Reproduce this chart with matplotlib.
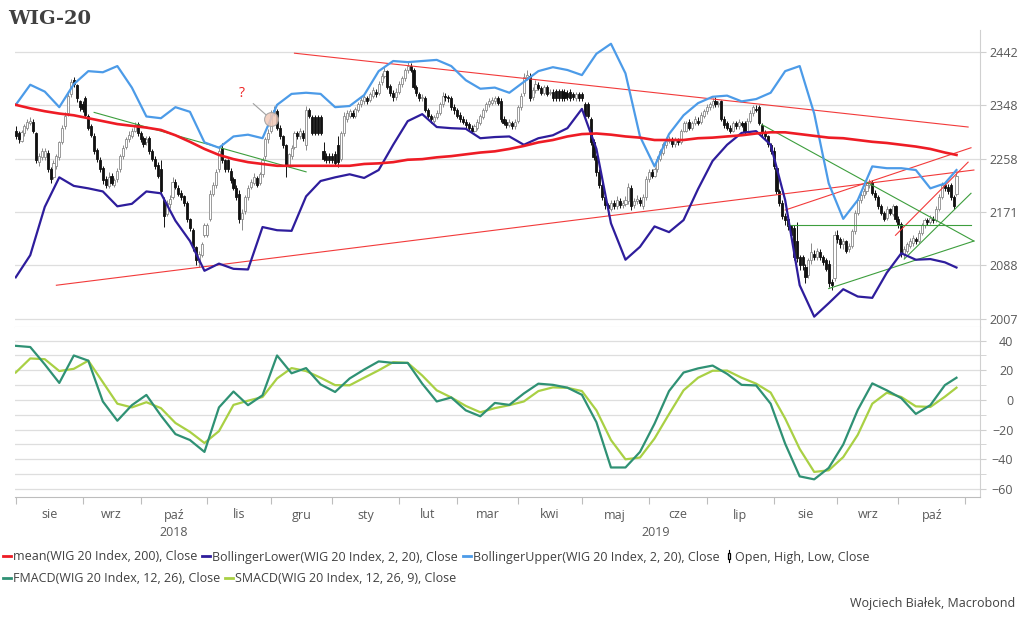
import matplotlib
matplotlib.use("Agg")
import matplotlib.pyplot as plt
import matplotlib.ticker as mticker
from matplotlib.lines import Line2D
from matplotlib.patches import Rectangle
from matplotlib.legend_handler import HandlerBase
import numpy as np
import pandas as pd

plt.rcParams['font.family'] = ['Open Sans', 'DejaVu Sans']

# WIG-20, sesje dzienne od 2018-08-01 (dni robocze; w święta powtórzona poprzednia świeca)
opens = [
    2305, 2300, 2288, 2300, 2310, 2318, 2320, 2300, 2252, 2260, 2260, 2268, 2240, 2228, 2245, 2260, 2285, 2312, 2335, 2368, 2392, 2383, 2355,
    2350, 2360, 2330, 2312, 2296, 2272, 2255, 2242, 2225, 2213, 2230, 2215, 2224, 2240, 2262, 2277, 2290, 2296, 2305, 2316,
    2300, 2292, 2285, 2292, 2270, 2258, 2248, 2240, 2190, 2168, 2183, 2195, 2220, 2210, 2202, 2196, 2185, 2160, 2142, 2115, 2092, 2103, 2135,
    2135, 2160, 2200, 2215, 2240, 2275, 2255, 2255, 2238, 2225, 2210, 2200, 2160, 2172, 2195, 2212, 2218, 2226, 2218, 2232, 2262, 2290,
    2305, 2335, 2338, 2310, 2295, 2280, 2248, 2262, 2278, 2300, 2296, 2300, 2280, 2340, 2328, 2328, 2328, 2328, 2270, 2262, 2262,
    2262, 2265, 2280, 2258, 2300, 2325, 2330, 2335, 2330, 2340, 2350, 2355, 2360, 2358, 2365, 2372, 2370, 2388, 2400, 2408, 2382, 2370, 2362,
    2372, 2385, 2395, 2410, 2418, 2410, 2380, 2368, 2360, 2360, 2340, 2330, 2322, 2328, 2335, 2350, 2365, 2362, 2360, 2345,
    2340, 2332, 2325, 2320, 2316, 2310, 2305, 2310, 2318, 2328, 2340, 2350, 2352, 2355, 2360, 2355, 2325, 2320, 2315, 2318, 2312,
    2322, 2345, 2370, 2398, 2400, 2362, 2375, 2383, 2378, 2370, 2380, 2370, 2372, 2373, 2373, 2373, 2372, 2370, 2372, 2368, 2360, 2368,
    2368, 2350, 2350, 2325, 2285, 2260, 2235, 2215, 2195, 2182, 2175, 2185, 2180, 2188, 2182, 2183, 2188, 2210, 2182, 2188, 2190, 2180, 2195,
    2225, 2235, 2230, 2240, 2258, 2268, 2280, 2288, 2290, 2282, 2290, 2285, 2305, 2305, 2320, 2310, 2318, 2322, 2320, 2330,
    2338, 2345, 2348, 2355, 2350, 2355, 2325, 2318, 2310, 2305, 2318, 2312, 2318, 2318, 2305, 2322, 2335, 2342, 2345, 2315, 2302, 2295, 2280,
    2270, 2242, 2205, 2185, 2165, 2160, 2148, 2145, 2125, 2100, 2100, 2085, 2072, 2095, 2105, 2100, 2108, 2100, 2095, 2090, 2062, 2068,
    2135, 2128, 2120, 2125, 2112, 2118, 2140, 2170, 2190, 2198, 2205, 2215, 2220, 2202, 2195, 2180, 2170, 2162, 2175, 2168, 2180,
    2160, 2152, 2105, 2110, 2118, 2122, 2128, 2125, 2138, 2150, 2158, 2155, 2160, 2158, 2175, 2195, 2215, 2212, 2215, 2195, 2200,
]
highs = [
    2312, 2305, 2306, 2316, 2324, 2328, 2324, 2302, 2268, 2276, 2276, 2272, 2244, 2256, 2266, 2288, 2314, 2336, 2370, 2394, 2398, 2386, 2358,
    2355, 2364, 2334, 2316, 2300, 2276, 2260, 2246, 2230, 2236, 2234, 2226, 2242, 2265, 2280, 2294, 2304, 2310, 2320, 2320,
    2305, 2296, 2296, 2296, 2274, 2262, 2252, 2256, 2195, 2190, 2198, 2228, 2224, 2214, 2206, 2198, 2188, 2162, 2145, 2118, 2110, 2124, 2153,
    2153, 2206, 2220, 2240, 2278, 2284, 2258, 2258, 2242, 2228, 2214, 2206, 2176, 2198, 2215, 2225, 2234, 2230, 2236, 2260, 2294, 2308,
    2340, 2347, 2342, 2314, 2298, 2282, 2268, 2280, 2304, 2304, 2310, 2306, 2347, 2344, 2331, 2331, 2331, 2331, 2285, 2268, 2268,
    2268, 2270, 2295, 2304, 2337, 2340, 2342, 2340, 2346, 2354, 2362, 2366, 2364, 2372, 2380, 2376, 2390, 2404, 2415, 2410, 2386, 2375, 2378,
    2390, 2400, 2414, 2424, 2422, 2414, 2384, 2372, 2368, 2364, 2344, 2334, 2332, 2340, 2354, 2372, 2370, 2366, 2364, 2350,
    2344, 2336, 2330, 2324, 2320, 2314, 2316, 2324, 2334, 2344, 2354, 2360, 2362, 2364, 2364, 2360, 2330, 2325, 2325, 2322, 2324,
    2348, 2370, 2404, 2410, 2404, 2380, 2392, 2388, 2382, 2384, 2384, 2376, 2376, 2377, 2377, 2377, 2376, 2374, 2376, 2372, 2372, 2372,
    2372, 2354, 2354, 2328, 2290, 2264, 2240, 2220, 2200, 2186, 2190, 2190, 2196, 2194, 2190, 2196, 2218, 2214, 2194, 2198, 2195, 2200, 2230,
    2240, 2240, 2244, 2262, 2274, 2286, 2294, 2295, 2294, 2294, 2293, 2308, 2322, 2322, 2324, 2322, 2330, 2328, 2336, 2342,
    2350, 2354, 2360, 2362, 2356, 2358, 2330, 2322, 2314, 2322, 2322, 2324, 2322, 2322, 2326, 2340, 2349, 2348, 2348, 2318, 2306, 2298, 2284,
    2277, 2245, 2208, 2190, 2170, 2166, 2150, 2150, 2155, 2104, 2104, 2090, 2098, 2122, 2111, 2114, 2112, 2103, 2098, 2096, 2066, 2140,
    2142, 2132, 2130, 2127, 2122, 2144, 2174, 2195, 2202, 2210, 2218, 2224, 2223, 2206, 2198, 2184, 2173, 2180, 2178, 2184, 2182,
    2165, 2155, 2118, 2124, 2130, 2134, 2132, 2142, 2154, 2162, 2162, 2166, 2164, 2180, 2200, 2220, 2220, 2216, 2218, 2198, 2234,
]
lows = [
    2290, 2284, 2285, 2296, 2306, 2314, 2300, 2250, 2246, 2256, 2256, 2236, 2218, 2224, 2240, 2256, 2282, 2308, 2330, 2362, 2380, 2354, 2338,
    2336, 2328, 2306, 2294, 2266, 2252, 2236, 2216, 2210, 2210, 2214, 2211, 2220, 2236, 2258, 2274, 2286, 2292, 2302, 2296,
    2286, 2278, 2280, 2266, 2254, 2240, 2226, 2201, 2147, 2164, 2178, 2192, 2208, 2196, 2190, 2180, 2155, 2140, 2110, 2088, 2085, 2100, 2132,
    2132, 2156, 2196, 2210, 2236, 2250, 2236, 2236, 2218, 2206, 2190, 2153, 2142, 2168, 2190, 2208, 2214, 2211, 2214, 2228, 2258, 2284,
    2300, 2330, 2306, 2290, 2276, 2228, 2244, 2258, 2274, 2290, 2290, 2288, 2272, 2326, 2297, 2297, 2297, 2297, 2254, 2250, 2250,
    2250, 2246, 2244, 2254, 2296, 2320, 2326, 2326, 2326, 2336, 2346, 2350, 2350, 2354, 2360, 2362, 2366, 2384, 2396, 2376, 2364, 2356, 2358,
    2368, 2380, 2390, 2405, 2406, 2376, 2365, 2356, 2355, 2336, 2326, 2318, 2318, 2324, 2332, 2346, 2356, 2354, 2340, 2334,
    2326, 2320, 2316, 2310, 2306, 2300, 2302, 2306, 2314, 2324, 2336, 2346, 2348, 2350, 2348, 2320, 2314, 2310, 2311, 2308, 2308,
    2318, 2340, 2365, 2392, 2355, 2358, 2370, 2374, 2366, 2366, 2364, 2366, 2356, 2356, 2356, 2356, 2356, 2358, 2356, 2358, 2356, 2355,
    2355, 2326, 2326, 2280, 2256, 2230, 2210, 2190, 2176, 2166, 2172, 2176, 2176, 2178, 2178, 2180, 2184, 2174, 2178, 2184, 2180, 2176, 2190,
    2220, 2226, 2227, 2236, 2254, 2264, 2276, 2284, 2278, 2278, 2281, 2282, 2302, 2302, 2306, 2306, 2314, 2314, 2316, 2326,
    2334, 2340, 2344, 2346, 2346, 2322, 2310, 2306, 2300, 2302, 2308, 2308, 2311, 2298, 2302, 2318, 2330, 2336, 2314, 2296, 2289, 2278, 2266,
    2240, 2200, 2180, 2160, 2150, 2142, 2130, 2096, 2092, 2080, 2080, 2060, 2068, 2090, 2096, 2096, 2096, 2088, 2078, 2055, 2050, 2064,
    2122, 2114, 2112, 2106, 2108, 2114, 2136, 2166, 2186, 2194, 2200, 2210, 2198, 2190, 2176, 2166, 2156, 2158, 2166, 2164, 2155,
    2146, 2100, 2098, 2106, 2114, 2118, 2120, 2122, 2134, 2146, 2150, 2152, 2154, 2155, 2172, 2192, 2205, 2200, 2190, 2175, 2196,
]
closes = [
    2295, 2290, 2302, 2312, 2320, 2322, 2305, 2255, 2262, 2270, 2270, 2240, 2225, 2250, 2262, 2285, 2310, 2330, 2365, 2388, 2385, 2360, 2345,
    2342, 2332, 2310, 2298, 2270, 2258, 2240, 2222, 2215, 2228, 2218, 2222, 2238, 2262, 2275, 2290, 2298, 2305, 2315, 2300,
    2290, 2282, 2290, 2270, 2258, 2245, 2230, 2205, 2165, 2185, 2192, 2220, 2212, 2200, 2195, 2185, 2160, 2145, 2115, 2095, 2105, 2120, 2150,
    2150, 2200, 2215, 2235, 2270, 2255, 2240, 2240, 2222, 2210, 2195, 2160, 2170, 2195, 2210, 2220, 2228, 2215, 2232, 2255, 2290, 2300,
    2335, 2340, 2310, 2295, 2280, 2245, 2265, 2275, 2300, 2295, 2305, 2292, 2340, 2330, 2300, 2300, 2300, 2300, 2258, 2255, 2255,
    2255, 2250, 2252, 2300, 2330, 2335, 2338, 2330, 2342, 2350, 2358, 2362, 2355, 2368, 2375, 2368, 2385, 2400, 2408, 2380, 2370, 2362, 2372,
    2385, 2395, 2410, 2418, 2410, 2380, 2370, 2360, 2362, 2340, 2330, 2325, 2328, 2335, 2350, 2365, 2362, 2360, 2345, 2340,
    2330, 2325, 2320, 2315, 2310, 2305, 2312, 2320, 2330, 2340, 2350, 2355, 2358, 2360, 2352, 2325, 2318, 2315, 2320, 2312, 2320,
    2345, 2365, 2398, 2402, 2360, 2375, 2385, 2378, 2370, 2380, 2368, 2372, 2360, 2360, 2360, 2360, 2360, 2362, 2360, 2362, 2368, 2360,
    2360, 2330, 2330, 2285, 2260, 2235, 2215, 2195, 2182, 2178, 2185, 2180, 2190, 2182, 2185, 2190, 2212, 2180, 2188, 2192, 2185, 2195, 2225,
    2235, 2230, 2240, 2258, 2270, 2282, 2288, 2290, 2282, 2290, 2285, 2305, 2318, 2318, 2310, 2318, 2325, 2318, 2332, 2338,
    2345, 2350, 2355, 2350, 2352, 2325, 2315, 2310, 2305, 2318, 2312, 2320, 2315, 2302, 2322, 2335, 2345, 2340, 2318, 2300, 2295, 2282, 2270,
    2245, 2205, 2185, 2165, 2158, 2148, 2135, 2100, 2098, 2088, 2088, 2070, 2095, 2108, 2100, 2110, 2100, 2092, 2082, 2060, 2058, 2135,
    2128, 2120, 2125, 2110, 2118, 2140, 2170, 2190, 2198, 2205, 2215, 2220, 2202, 2195, 2180, 2170, 2160, 2175, 2170, 2180, 2160,
    2150, 2105, 2112, 2120, 2125, 2130, 2125, 2138, 2150, 2158, 2155, 2162, 2158, 2175, 2195, 2215, 2210, 2205, 2195, 2180, 2230,
]

# wskazniki, odczytane co 5 sesji (plus ostatnia sesja)
mean200 = [
    2349, 2343, 2338, 2334, 2331, 2326, 2321, 2316, 2313, 2310,
    2306, 2297, 2286, 2274, 2264, 2257, 2252, 2249, 2246, 2246,
    2246, 2246, 2246, 2246, 2249, 2250, 2252, 2256, 2257, 2260,
    2262, 2265, 2268, 2270, 2274, 2279, 2285, 2289, 2295, 2299,
    2300, 2298, 2295, 2293, 2289, 2289, 2289, 2292, 2293, 2295,
    2297, 2300, 2302, 2302, 2299, 2296, 2293, 2292, 2289, 2286,
    2284, 2281, 2278, 2274, 2268, 2264,
]
bb_upper = [
    2349, 2384, 2372, 2345, 2385, 2408, 2406, 2417, 2379, 2329,
    2326, 2345, 2337, 2285, 2276, 2295, 2298, 2292, 2349, 2368,
    2370, 2368, 2345, 2347, 2366, 2408, 2426, 2424, 2426, 2428,
    2417, 2392, 2377, 2379, 2370, 2389, 2408, 2415, 2410, 2401,
    2439, 2457, 2404, 2295, 2245, 2299, 2331, 2352, 2363, 2365,
    2355, 2359, 2370, 2408, 2417, 2334, 2217, 2160, 2190, 2245,
    2242, 2242, 2239, 2209, 2217, 2239,
]
bb_lower = [
    2069, 2103, 2179, 2227, 2213, 2209, 2204, 2180, 2184, 2204,
    2201, 2157, 2125, 2079, 2090, 2082, 2081, 2147, 2142, 2141,
    2196, 2221, 2227, 2232, 2226, 2239, 2281, 2321, 2333, 2311,
    2309, 2308, 2292, 2294, 2295, 2281, 2292, 2297, 2309, 2342,
    2274, 2153, 2096, 2116, 2148, 2139, 2158, 2208, 2254, 2281,
    2301, 2304, 2281, 2190, 2057, 2010, 2030, 2051, 2040, 2038,
    2076, 2106, 2096, 2097, 2092, 2084,
]
fmacd = [
    36.5, 35.7, 24, 11.5, 30, 26.5, -1, -14, -3.5, 3.4,
    -10.5, -23, -27, -35, -5, 5.7, -3.5, 3.2, 30, 18,
    21.5, 10.5, 5.4, 14.5, 20.5, 26, 25, 25, 11, -1,
    1.7, -7, -11, -2, -3.3, 4.4, 11, 10.2, 8.3, 3.5,
    -15, -45.5, -45.5, -35, -16, 6, 18.5, 21.3, 23.2, 17.6,
    10.2, 9.8, -2.5, -29.5, -51.5, -53.5, -45.8, -30, -6.7, 11.2,
    6.5, 1.2, -9.4, -3.5, 10, 15,
]
smacd = [
    18.5, 28, 27.5, 19.5, 21, 26.5, 12, -2.5, -5, -1.5,
    -5.5, -15.5, -21.5, -29, -21, -3.3, -0.5, 2, 14.5, 21.5,
    19.5, 15, 10, 9.9, 15, 20, 25.5, 25, 16.5, 6.5,
    1.7, -4, -8.3, -5.5, -3.5, -1, 6, 8.5, 8.2, 6,
    -7, -27, -40, -38.8, -26, -9.5, 6.5, 15, 19.7, 19.8,
    15, 11, 5, -12.5, -33, -48.5, -47.4, -38.5, -23.5, -2.5,
    4.9, 2, -4.3, -4.7, 2.2, 8.3,
]

# linie trendu: data od, wartosc od, data do, wartosc do
red_lines = [
    ("2018-08-21", 2057, "2019-11-06", 2239),
    ("2018-12-13", 2440, "2019-11-04", 2311),
    ("2019-08-07", 2174, "2019-11-05", 2276),
    ("2019-09-30", 2134, "2019-11-04", 2252),
]
green_lines = [
    ("2018-09-07", 2336, "2018-12-19", 2236),
    ("2019-07-26", 2315, "2019-11-06", 2125),
    ("2019-08-08", 2151, "2019-11-05", 2151),
    ("2019-08-28", 2052, "2019-11-06", 2125),
    ("2019-10-03", 2097, "2019-11-05", 2201),
]

month_names = ["sie", "wrz", "paź", "lis", "gru", "sty", "lut", "mar",
               "kwi", "maj", "cze", "lip", "sie", "wrz", "paź"]
price_ticks = [2007, 2088, 2171, 2258, 2348, 2442]
macd_ticks = [-60, -40, -20, 0, 20, 40]

c_mean = "#ee1c25"
c_low = "#2e1d9c"
c_up = "#4c9be8"
c_fm = "#2f9174"
c_sm = "#a9d044"
c_red = "#f23a3a"
c_green = "#3d9e3d"
grid_c = "#dedede"
txt_c = "#595959"

days = pd.bdate_range("2018-08-01", "2019-11-29")
def pos(d):
    return days.get_loc(pd.Timestamp(d))

x = np.arange(len(closes))
ind_x = list(range(0, len(closes), 5)) + [len(closes) - 1]
xmax = 332.1

fig = plt.figure(figsize=(10.24, 6.21), dpi=100)
ax1 = fig.add_axes([15 / 1024, 1 - 326.7 / 621, 965 / 1024, 296.7 / 621])
ax2 = fig.add_axes([15 / 1024, 1 - 497 / 621, 965 / 1024, 170.3 / 621])

# --- panel cenowy ---
o = np.array(opens); h = np.array(highs); l = np.array(lows); c = np.array(closes)
up = c >= o
ax1.vlines(x[up], l[up], h[up], color="#8a8a8a", lw=0.7, zorder=2)
ax1.vlines(x[~up], l[~up], h[~up], color="#111111", lw=0.7, zorder=2)
body_lo = np.minimum(o, c)
body_h = np.maximum(np.abs(c - o), 0.6)
ax1.bar(x[up], body_h[up], bottom=body_lo[up], width=0.72, facecolor="white",
        edgecolor="#8a8a8a", linewidth=0.6, zorder=2.5)
ax1.bar(x[~up], body_h[~up], bottom=body_lo[~up], width=0.72, facecolor="#111111",
        edgecolor="#111111", linewidth=0.6, zorder=2.5)

for d0, v0, d1, v1 in red_lines:
    ax1.plot([pos(d0), pos(d1)], [v0, v1], color=c_red, lw=0.8, zorder=3)
for d0, v0, d1, v1 in green_lines:
    ax1.plot([pos(d0), pos(d1)], [v0, v1], color=c_green, lw=0.8, zorder=3)

ax1.plot(ind_x, bb_upper, color=c_up, lw=1.6, zorder=4)
ax1.plot(ind_x, bb_lower, color=c_low, lw=1.6, zorder=4)
ax1.plot(ind_x, mean200, color=c_mean, lw=1.9, zorder=4)

# znak zapytania z kolkiem
qx, qv = pos("2018-12-03"), 2324
ax1.plot([qx], [qv], marker="o", ms=10, mfc="#f2c9b8", mec="#a0a0a0", mew=0.8,
         alpha=0.85, zorder=5)
ax1.annotate("?", xy=(qx, qv), xytext=(pos("2018-11-19"), 2368), color="#ee2222",
             fontsize=10, ha="center", va="center",
             arrowprops=dict(arrowstyle="-", color="#a0a0a0", lw=0.8, shrinkA=5, shrinkB=5))

ax1.set_yscale("log")
ax1.set_ylim(1995.2, 2482)
ax1.set_xlim(-0.25, xmax)
ax1.yaxis.tick_right()
ax1.yaxis.set_major_locator(mticker.FixedLocator(price_ticks))
ax1.yaxis.set_major_formatter(mticker.FixedFormatter([str(t) for t in price_ticks]))
ax1.yaxis.set_minor_locator(mticker.NullLocator())
ax1.tick_params(axis="y", length=4, color="#cfcfcf", labelsize=9, labelcolor=txt_c, pad=3)
ax1.set_xticks([])
ax1.grid(axis="y", color=grid_c, lw=0.9)
ax1.set_axisbelow(True)
for s in ["left", "top"]:
    ax1.spines[s].set_visible(False)
ax1.spines["right"].set_color("#d0d0d0")
ax1.spines["bottom"].set_color("#dadada")

# --- panel MACD ---
ax2.plot(ind_x, smacd, color=c_sm, lw=1.6, zorder=3)
ax2.plot(ind_x, fmacd, color=c_fm, lw=1.6, zorder=4)
ax2.set_xlim(-0.25, xmax)
ax2.set_ylim(-65.4, 49.4)
ax2.yaxis.tick_right()
ax2.yaxis.set_major_locator(mticker.FixedLocator(macd_ticks))
ax2.yaxis.set_minor_locator(mticker.MultipleLocator(10))
ax2.tick_params(axis="y", which="both", length=4, color="#cfcfcf", labelsize=9,
                labelcolor=txt_c, pad=20)
for lab in ax2.get_yticklabels():
    lab.set_horizontalalignment("right")
ax2.grid(axis="y", which="both", color=grid_c, lw=0.9)
ax2.set_axisbelow(True)
for s in ["left", "top"]:
    ax2.spines[s].set_visible(False)
ax2.spines["right"].set_color("#d0d0d0")
ax2.spines["bottom"].set_color("#bdbdbd")

starts = [i for i in range(len(days)) if (i == 0 or days[i].month != days[i - 1].month) and i <= xmax]
ax2.set_xticks(starts)
ax2.set_xticklabels([])
ax2.tick_params(axis="x", length=5, color="#bdbdbd")
xt = ax2.get_xaxis_transform()
for k, name in enumerate(month_names):
    mid = (starts[k] + starts[k + 1]) / 2
    ax2.annotate(name, xy=(mid, 0), xycoords=xt, xytext=(0, -18), textcoords="offset pixels",
                 ha="center", va="center", fontsize=9, color=txt_c)
jan = pos("2019-01-01")
for yr, mid in [("2018", jan / 2), ("2019", (jan + xmax) / 2)]:
    ax2.annotate(yr, xy=(mid, 0), xycoords=xt, xytext=(0, -36), textcoords="offset pixels",
                 ha="center", va="center", fontsize=9, color=txt_c)

# --- legenda ---
class CandleKey:
    pass

class CandleHandler(HandlerBase):
    def create_artists(self, legend, orig, xd, yd, w, h, fontsize, trans):
        cx = xd + w / 2
        wick = Line2D([cx, cx], [yd - 0.15 * h, yd + 1.15 * h], color="black", lw=0.8, transform=trans)
        body = Rectangle((cx - 0.14 * w, yd + 0.15 * h), 0.28 * w, 0.7 * h, facecolor="white",
                         edgecolor="black", lw=0.9, transform=trans)
        return [wick, body]

leg_kw = dict(frameon=False, fontsize=9, handlelength=0.6, handletextpad=0.2,
              columnspacing=0.4, borderpad=0, borderaxespad=0, labelcolor="#404040")
row1 = [Line2D([], [], color=c_mean, lw=2), Line2D([], [], color=c_low, lw=2),
        Line2D([], [], color=c_up, lw=2), CandleKey()]
lab1 = ["mean(WIG 20 Index, 200), Close", "BollingerLower(WIG 20 Index, 2, 20), Close",
        "BollingerUpper(WIG 20 Index, 2, 20), Close", "Open, High, Low, Close"]
fig.legend(row1, lab1, ncol=4, loc="center left", bbox_to_anchor=(0.003, 1 - 557 / 621),
           handler_map={CandleKey: CandleHandler()}, **leg_kw)
row2 = [Line2D([], [], color=c_fm, lw=2), Line2D([], [], color=c_sm, lw=2)]
lab2 = ["FMACD(WIG 20 Index, 12, 26), Close", "SMACD(WIG 20 Index, 12, 26, 9), Close"]
fig.legend(row2, lab2, ncol=2, loc="center left", bbox_to_anchor=(0.003, 1 - 579 / 621), **leg_kw)

fig.text(1015 / 1024, 1 - 604 / 621, "Wojciech Białek, Macrobond", ha="right", va="center",
         fontsize=9, color="#404040")
fig.text(8 / 1024, 1 - 19 / 621, "WIG-20", ha="left", va="center", fontsize=14,
         fontweight="bold", family="DejaVu Serif", color="#404040")

fig.savefig("out.png", dpi=100)
